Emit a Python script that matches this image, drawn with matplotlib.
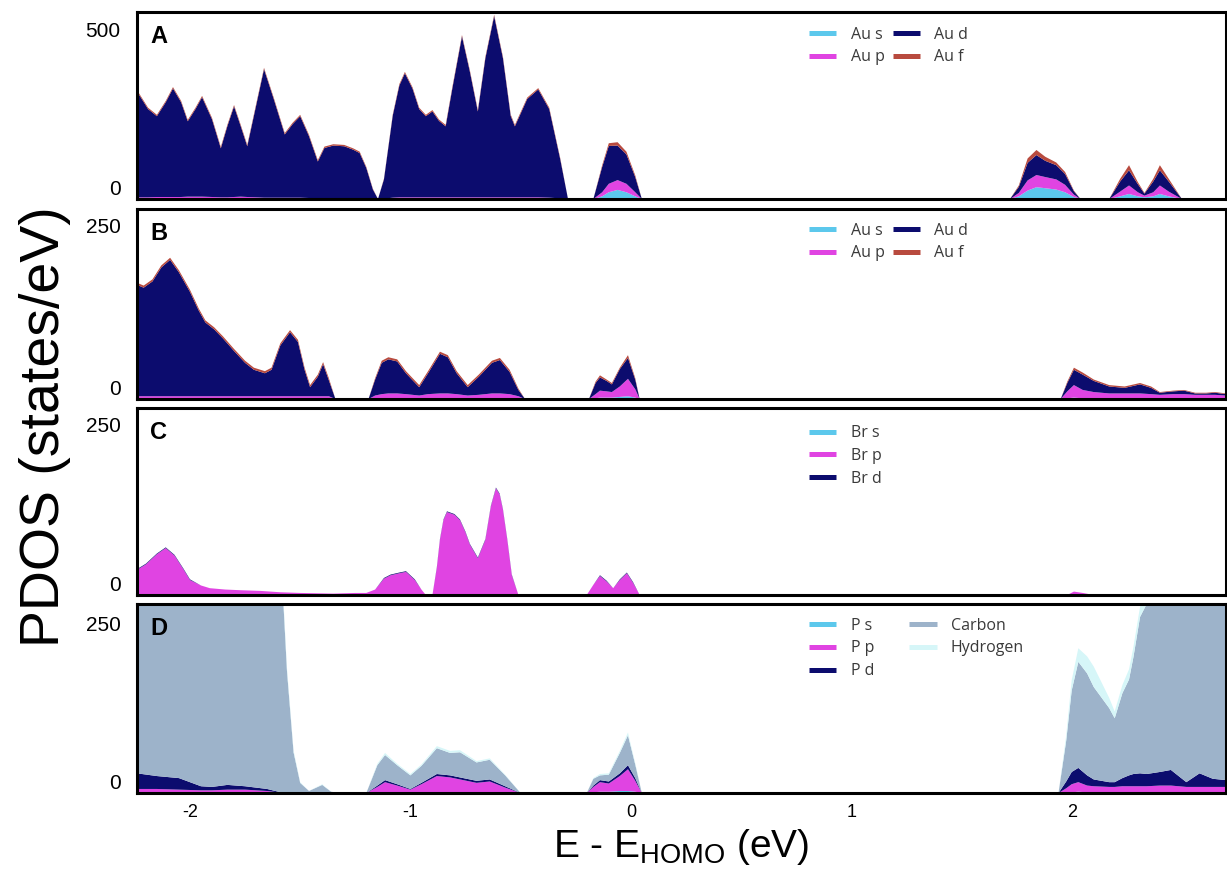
import matplotlib
matplotlib.use("Agg")
import matplotlib.pyplot as plt
from matplotlib.lines import Line2D

plt.rcParams['font.family'] = ['Liberation Sans', 'DejaVu Sans']
plt.rcParams['mathtext.fontset'] = 'custom'
plt.rcParams['mathtext.rm'] = 'Liberation Sans'
plt.rcParams['mathtext.it'] = 'Liberation Sans'
plt.rcParams['axes.unicode_minus'] = False

# colours for the projected components
C_S = '#5cc8ec'
C_P = '#e044e2'
C_D = '#0c0c6e'
C_F = '#b84a3e'
C_CARBON = '#9db3ca'
C_HYDROGEN = '#d6f6f8'

# ---- panel A : Au projections ----
a_energy = [-2.24, -2.19, -2.15, -2.11, -2.077, -2.04, -2.01, -1.975, -1.945, -1.90,
            -1.86, -1.83, -1.80, -1.77, -1.74, -1.70, -1.664, -1.62, -1.57, -1.535,
            -1.50, -1.46, -1.42, -1.39, -1.35, -1.30, -1.26, -1.23, -1.20, -1.17,
            -1.147, -1.12, -1.08, -1.05, -1.025, -0.99, -0.96, -0.93, -0.90, -0.87,
            -0.84, -0.81, -0.766, -0.73, -0.694, -0.66, -0.62, -0.58, -0.545, -0.526,
            -0.47, -0.42, -0.37, -0.32, -0.285, -0.17, -0.13, -0.10, -0.06, -0.02,
            0.02, 0.05, 1.72, 1.76, 1.80, 1.84, 1.88, 1.93, 1.97, 2.01,
            2.04, 2.17, 2.22, 2.26, 2.30, 2.33, 2.37, 2.40, 2.44, 2.50, 2.70]
a_s = [1, 1, 1, 1, 1, 1, 1, 1, 1, 1,
       1, 1, 1, 1, 1, 1, 1, 1, 1, 1,
       1, 1, 1, 1, 1, 1, 1, 1, 0, 0,
       0, 0, 1, 1, 1, 1, 1, 1, 1, 1,
       1, 1, 1, 1, 1, 1, 1, 1, 1, 1,
       1, 1, 1, 0, 0, 0, 8, 20, 27, 20,
       8, 0, 0, 8, 25, 35, 32, 28, 20, 6,
       0, 0, 8, 15, 8, 5, 8, 15, 8, 0, 0]
a_p = [4, 4, 5, 5, 5, 5, 6, 6, 6, 5,
       4, 4, 5, 6, 5, 4, 3, 3, 3, 3,
       3, 2, 2, 2, 2, 2, 2, 2, 2, 1,
       0, 1, 3, 4, 4, 4, 4, 4, 4, 4,
       4, 4, 4, 4, 4, 4, 4, 4, 4, 4,
       4, 4, 3, 2, 0, 0, 12, 25, 29, 25,
       12, 0, 0, 10, 30, 36, 33, 30, 22, 7,
       0, 0, 14, 25, 12, 5, 12, 25, 14, 0, 0]
a_d = [313, 261, 239, 280, 321, 280, 223, 259, 294, 230,
       145, 211, 268, 209, 150, 271, 380, 292, 187, 217,
       241, 183, 108, 148, 155, 153, 143, 133, 90, 27,
       0, 57, 243, 331, 367, 321, 261, 240, 254, 226,
       210, 321, 476, 371, 254, 411, 536, 411, 241, 210,
       291, 319, 262, 115, 0, 0, 75, 112, 102, 87,
       45, 0, 0, 18, 52, 59, 48, 42, 32, 10,
       0, 0, 30, 45, 24, 6, 32, 45, 30, 0, 0]
a_f = [4, 4, 4, 4, 4, 4, 4, 4, 4, 4,
       4, 4, 4, 4, 4, 4, 4, 4, 4, 4,
       4, 4, 4, 4, 4, 4, 4, 4, 3, 2,
       0, 2, 3, 4, 4, 4, 4, 4, 4, 4,
       4, 4, 4, 4, 4, 4, 4, 4, 4, 4,
       4, 4, 4, 3, 0, 0, 5, 8, 10, 8,
       5, 0, 0, 4, 13, 15, 12, 8, 6, 2,
       0, 0, 8, 15, 6, 2, 8, 15, 8, 0, 0]

# ---- panel B : Au projections ----
b_energy = [-2.24, -2.21, -2.17, -2.13, -2.09, -2.05, -2.00, -1.96, -1.93, -1.89,
            -1.85, -1.80, -1.75, -1.71, -1.66, -1.63, -1.59, -1.546, -1.51, -1.48,
            -1.455, -1.42, -1.396, -1.37, -1.34, -1.19, -1.16, -1.13, -1.10, -1.06,
            -1.02, -0.96, -0.92, -0.866, -0.83, -0.79, -0.74, -0.69, -0.63, -0.594,
            -0.55, -0.51, -0.48, -0.19, -0.16, -0.14, -0.11, -0.086, -0.05, -0.013,
            0.02, 0.04, 1.95, 1.98, 2.01, 2.05, 2.10, 2.17, 2.24, 2.31,
            2.36, 2.40, 2.46, 2.51, 2.56, 2.61, 2.65, 2.70]
b_s = [1] * 24 + [0] + [0, 1, 1, 1, 1, 1, 1, 1, 1, 1, 1, 1, 1, 1, 1, 1, 1, 0,
                        0, 1, 2, 2, 2, 3, 4, 2, 0, 0, 1, 2, 1, 1, 1, 1, 1,
                        1, 1, 1, 1, 1, 1, 1, 1]
b_p = [3] * 24 + [0] + [0, 4, 6, 7, 7, 6, 4, 6, 7, 7, 6, 4, 5, 7, 7, 6, 3, 0,
                        0, 6, 10, 9, 8, 15, 25, 12, 0, 0, 10, 18, 12, 9, 7, 7, 7,
                        6, 5, 6, 6, 5, 5, 5, 4]
b_d = [160, 156, 165, 185, 196, 178, 150, 123, 106, 96,
       83, 65, 48, 38, 33, 38, 73, 92, 78, 38,
       13, 28, 46, 23, 0, 0, 23, 45, 49, 46,
       30, 12, 30, 57, 52, 30, 12, 26, 44, 48,
       32, 9, 0, 0, 16, 19, 15, 11, 25, 30,
       14, 0, 0, 12, 22, 22, 16, 10, 8, 13,
       9, 3, 4, 5, 2, 2, 3, 2]
b_f = [3] * 24 + [0] + [0, 2, 3, 3, 3, 3, 3, 3, 3, 3, 3, 3, 3, 3, 3, 3, 2, 0,
                        0, 2, 3, 2, 2, 2, 4, 2, 0, 0, 2, 3, 3, 2, 2, 2, 2,
                        2, 1, 1, 1, 1, 1, 1, 1]

# ---- panel C : Br projections ----
c_energy = [-2.24, -2.20, -2.15, -2.11, -2.07, -2.03, -2.00, -1.95, -1.91, -1.84,
            -1.77, -1.68, -1.59, -1.50, -1.35, -1.25, -1.20, -1.16, -1.12, -1.09,
            -1.05, -1.02, -0.98, -0.95, -0.93, -0.90, -0.88, -0.866, -0.85, -0.834,
            -0.80, -0.775, -0.75, -0.73, -0.694, -0.66, -0.635, -0.612, -0.595, -0.58,
            -0.56, -0.54, -0.51, -0.20, -0.17, -0.14, -0.11, -0.08, -0.05, -0.018,
            0.01, 0.04, 1.98, 2.01, 2.05, 2.10, 2.70]
c_s = [0] * 57
c_p = [37, 45, 60, 69, 58, 38, 22, 14, 10, 8,
       7, 6, 4, 3, 2, 3, 3, 8, 24, 29,
       32, 34, 22, 8, 0, 0, 40, 81, 110, 122,
       118, 110, 92, 74, 54, 81, 130, 157, 148, 125,
       80, 29, 0, 0, 15, 28, 20, 10, 22, 32,
       18, 0, 0, 5, 3, 0, 0]
c_d = [1, 1, 1, 1, 1, 1, 1, 0, 0, 0,
       0, 0, 0, 0, 0, 0, 0, 0, 1, 1,
       1, 1, 1, 0, 0, 0, 1, 1, 1, 1,
       1, 1, 1, 1, 1, 1, 1, 1, 1, 1,
       1, 1, 0, 0, 0, 1, 1, 0, 1, 1,
       1, 0, 0, 0, 0, 0, 0]

# ---- panel D : P, C and H projections ----
d_energy = [-2.24, -2.15, -2.05, -1.95, -1.90, -1.83, -1.75, -1.65, -1.60, -1.578,
            -1.56, -1.53, -1.50, -1.46, -1.40, -1.36, -1.32, -1.20, -1.15, -1.115,
            -1.06, -1.00, -0.95, -0.88, -0.82, -0.775, -0.70, -0.64, -0.57, -0.50,
            -0.20, -0.17, -0.14, -0.10, -0.05, -0.013, 0.02, 0.05, 1.94, 1.975,
            2.00, 2.03, 2.07, 2.10, 2.17, 2.195, 2.23, 2.26, 2.28, 2.31,
            2.34, 2.40, 2.45, 2.52, 2.58, 2.64, 2.70]
d_s = [1, 1, 1, 1, 1, 1, 1, 1, 0, 0,
       0, 0, 0, 0, 0, 0, 0, 0, 1, 1,
       1, 0, 1, 1, 1, 1, 1, 1, 0, 0,
       0, 1, 2, 2, 3, 3, 2, 0, 0, 1,
       1, 2, 1, 1, 1, 1, 1, 1, 1, 1,
       1, 1, 1, 1, 1, 1, 1]
d_p = [5, 5, 4, 3, 3, 4, 4, 2, 1, 1,
       0, 0, 0, 0, 0, 0, 0, 0, 8, 15,
       10, 5, 12, 24, 22, 19, 14, 16, 8, 0,
       0, 8, 14, 12, 22, 32, 16, 0, 0, 6,
       12, 14, 10, 9, 8, 8, 9, 9, 9, 9,
       9, 10, 10, 8, 8, 8, 8]
d_d = [23, 19, 17, 6, 5, 7, 5, 3, 1, 0,
       0, 0, 0, 0, 0, 0, 0, 0, 2, 3,
       2, 1, 2, 3, 3, 3, 3, 3, 2, 0,
       0, 2, 3, 3, 4, 6, 4, 0, 0, 10,
       18, 21, 15, 10, 7, 7, 12, 16, 18, 19,
       18, 20, 23, 7, 20, 12, 10]
d_carbon = [330, 330, 330, 330, 330, 330, 330, 330, 320, 290,
            180, 60, 15, 3, 12, 2, 0, 0, 30, 37,
            28, 20, 25, 38, 33, 37, 27, 29, 16, 0,
            0, 10, 7, 10, 30, 44, 20, 0, 0, 60,
            120, 156, 150, 136, 109, 94, 125, 141, 172, 230,
            250, 300, 300, 300, 300, 300, 300]
d_hydrogen = [10, 10, 10, 10, 10, 10, 10, 10, 10, 8,
              5, 3, 1, 0, 1, 0, 0, 0, 2, 3,
              2, 2, 2, 3, 3, 3, 2, 2, 1, 0,
              0, 1, 2, 2, 3, 4, 2, 0, 0, 8,
              15, 20, 25, 30, 15, 10, 12, 15, 15, 15,
              15, 15, 15, 15, 15, 15, 15]

y_tops = [553, 273, 275, 278]
y_labels = [500, 250, 250, 250]
panel_letters = ['A', 'B', 'C', 'D']
x_ticks = [-2, -1, 0, 1, 2]

fig = plt.figure(figsize=(12.27, 8.71), dpi=100)
left, width = 0.1117, 0.8875
boxes = [(0.7715, 0.2147), (0.5419, 0.2181), (0.3169, 0.2147), (0.0895, 0.2170)]
axes = [fig.add_axes([left, b, width, h]) for b, h in boxes]

axes[0].stackplot(a_energy, a_s, a_p, a_d, a_f, colors=[C_S, C_P, C_D, C_F], lw=0)
axes[1].stackplot(b_energy, b_s, b_p, b_d, b_f, colors=[C_S, C_P, C_D, C_F], lw=0)
axes[2].stackplot(c_energy, c_s, c_p, c_d, colors=[C_S, C_P, C_D], lw=0)
axes[3].stackplot(d_energy, d_s, d_p, d_d, d_carbon, d_hydrogen,
                  colors=[C_S, C_P, C_D, C_CARBON, C_HYDROGEN], lw=0)


def handle(c):
    return Line2D([], [], color=c, lw=3.6, solid_capstyle='butt')


legend_sets = [
    (['Au s', 'Au p', 'Au d', 'Au f'], [C_S, C_P, C_D, C_F], 2, 0.5, 0.965),
    (['Au s', 'Au p', 'Au d', 'Au f'], [C_S, C_P, C_D, C_F], 2, 0.5, 0.97),
    (['Br s', 'Br p', 'Br d'], [C_S, C_P, C_D], 1, 0.5, 0.95),
    (['P s', 'P p', 'P d', 'Carbon', 'Hydrogen'],
     [C_S, C_P, C_D, C_CARBON, C_HYDROGEN], 2, 2.2, 0.97),
]

for i, ax in enumerate(axes):
    ax.set_xlim(-2.24, 2.70)
    ax.set_ylim(0, y_tops[i])
    for sp in ax.spines.values():
        sp.set_linewidth(2.2)
        sp.set_color('black')
    ax.set_yticks([0, y_labels[i]], ['0', str(y_labels[i])])
    ax.tick_params(axis='y', length=0, pad=12, labelsize=15)
    ax.get_yticklabels()[0].set_va('bottom')
    ax.set_xticks(x_ticks)
    if i < 3:
        ax.tick_params(axis='x', length=0, labelbottom=False)
    else:
        ax.tick_params(axis='x', length=0, pad=8, labelsize=13)
    ax.text(0.012, 0.87, panel_letters[i], transform=ax.transAxes,
            fontsize=17, fontweight='bold', va='center', ha='left')

    names, cols, ncol, colsp, ytop = legend_sets[i]
    leg = ax.legend([handle(c) for c in cols], names, ncol=ncol,
                    loc='upper left', bbox_to_anchor=(0.61, ytop),
                    frameon=False, handlelength=1.7, handletextpad=0.9,
                    columnspacing=colsp, labelspacing=0.42, borderpad=0,
                    prop={'family': 'Open Sans', 'size': 11.5})
    for t in leg.get_texts():
        t.set_color('#3a3a3a')

fig.text(0.037, 0.51, 'PDOS (states/eV)', rotation=90, fontsize=40,
         ha='center', va='center')
fig.text(0.555, 0.028, r'E - E$_{\mathrm{HOMO}}$ (eV)', fontsize=28,
         ha='center', va='center')

fig.savefig('out.png', dpi=100, facecolor='white')
